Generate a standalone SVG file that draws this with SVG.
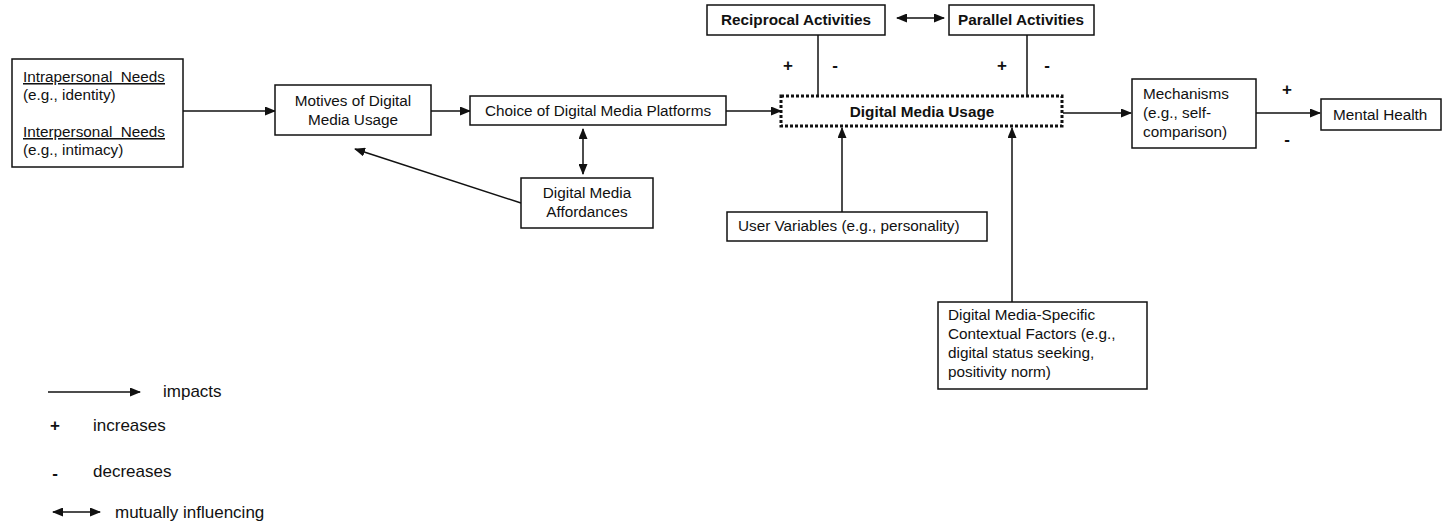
<svg xmlns="http://www.w3.org/2000/svg" width="1447" height="521" viewBox="0 0 1447 521">
<style>
.box{fill:#fff;stroke:#111;stroke-width:1.5}
.dot{fill:#fff;stroke:#111;stroke-width:3;stroke-dasharray:3 2}
.t{font-family:"Liberation Sans",Arial,sans-serif;font-size:15.3px;fill:#111}
.b{font-family:"Liberation Sans",Arial,sans-serif;font-size:15.3px;font-weight:bold;fill:#111}
.sg{font-family:"Liberation Sans",Arial,sans-serif;font-size:17px;font-weight:bold;fill:#111}
.lg{font-family:"Liberation Sans",Arial,sans-serif;font-size:17px;fill:#111}
.c{text-anchor:middle}
.ln{stroke:#111;stroke-width:1.5;fill:none}
.a{marker-end:url(#ah)}
.d{marker-start:url(#ah);marker-end:url(#ah)}
</style>
<defs>
<marker id="ah" markerUnits="userSpaceOnUse" markerWidth="11" markerHeight="9" refX="10" refY="4.5" orient="auto-start-reverse">
<path d="M0,0 L11,4.5 L0,9 z" fill="#111"/>
</marker>
</defs>
<g id="connectors">
<line class="ln a" x1="183" y1="111" x2="275" y2="111"/>
<line class="ln a" x1="431" y1="111" x2="470" y2="111"/>
<line class="ln a" x1="726" y1="111" x2="781" y2="111"/>
<line class="ln d" x1="583" y1="129" x2="583" y2="174"/>
<line class="ln a" x1="521" y1="203" x2="355" y2="149"/>
<line class="ln d" x1="897" y1="18" x2="944" y2="18"/>
<line class="ln" x1="818" y1="35" x2="818" y2="95"/>
<line class="ln" x1="1027" y1="35" x2="1027" y2="95"/>
<line class="ln a" x1="1063" y1="113" x2="1131" y2="113"/>
<line class="ln a" x1="1256" y1="113" x2="1320" y2="113"/>
<line class="ln a" x1="842" y1="212" x2="842" y2="128"/>
<line class="ln a" x1="1012" y1="302" x2="1012" y2="128"/>
</g>
<g id="signs">
<text class="sg c" x="788" y="71">+</text>
<text class="sg c" x="835" y="71">-</text>
<text class="sg c" x="1002" y="71">+</text>
<text class="sg c" x="1047" y="71">-</text>
<text class="sg c" x="1287" y="95">+</text>
<text class="sg c" x="1287" y="145">-</text>
</g>
<g id="needs">
<rect class="box" x="12" y="59" width="171" height="108"/>
<text class="t" x="23" y="82" text-decoration="underline" xml:space="preserve">Intrapersonal  Needs</text>
<text class="t" x="23" y="100">(e.g., identity)</text>
<text class="t" x="23" y="137" text-decoration="underline" xml:space="preserve">Interpersonal  Needs</text>
<text class="t" x="23" y="155">(e.g., intimacy)</text>
</g>
<g id="motives">
<rect class="box" x="275" y="85" width="156" height="50"/>
<text class="t c" x="353" y="106">Motives of Digital</text>
<text class="t c" x="353" y="125">Media Usage</text>
</g>
<g id="choice">
<rect class="box" x="470" y="96" width="256" height="29"/>
<text class="t c" x="598" y="116">Choice of Digital Media Platforms</text>
</g>
<g id="affordances">
<rect class="box" x="521" y="178" width="132" height="50"/>
<text class="t c" x="587" y="198">Digital Media</text>
<text class="t c" x="587" y="217">Affordances</text>
</g>
<g id="usage">
<rect class="dot" x="781" y="96" width="281" height="30"/>
<text class="b c" x="922" y="117">Digital Media Usage</text>
</g>
<g id="reciprocal">
<rect class="box" x="707" y="5" width="178" height="30"/>
<text class="b c" x="796" y="25">Reciprocal Activities</text>
</g>
<g id="parallel">
<rect class="box" x="949" y="5" width="145" height="30"/>
<text class="b c" x="1021" y="25">Parallel Activities</text>
</g>
<g id="mechanisms">
<rect class="box" x="1132" y="79" width="124" height="69"/>
<text class="t" x="1143" y="99">Mechanisms</text>
<text class="t" x="1143" y="118">(e.g., self-</text>
<text class="t" x="1143" y="137">comparison)</text>
</g>
<g id="mental-health">
<rect class="box" x="1321" y="99" width="120" height="31"/>
<text class="t" x="1333" y="120">Mental Health</text>
</g>
<g id="user-variables">
<rect class="box" x="727" y="212" width="260" height="29"/>
<text class="t" x="738" y="231">User Variables (e.g., personality)</text>
</g>
<g id="contextual">
<rect class="box" x="938" y="302" width="209" height="87"/>
<text class="t" x="948" y="320">Digital Media-Specific</text>
<text class="t" x="948" y="339">Contextual Factors (e.g.,</text>
<text class="t" x="948" y="358">digital status seeking,</text>
<text class="t" x="948" y="377">positivity norm)</text>
</g>
<g id="legend">
<line class="ln a" x1="48" y1="392" x2="140" y2="392"/>
<text class="lg" x="163" y="397">impacts</text>
<text class="sg c" x="55" y="431">+</text>
<text class="lg" x="93" y="431">increases</text>
<text class="sg c" x="55" y="479">-</text>
<text class="lg" x="93" y="477">decreases</text>
<line class="ln d" x1="53" y1="512" x2="100" y2="512"/>
<text class="lg" x="115" y="518">mutually influencing</text>
</g>
</svg>
